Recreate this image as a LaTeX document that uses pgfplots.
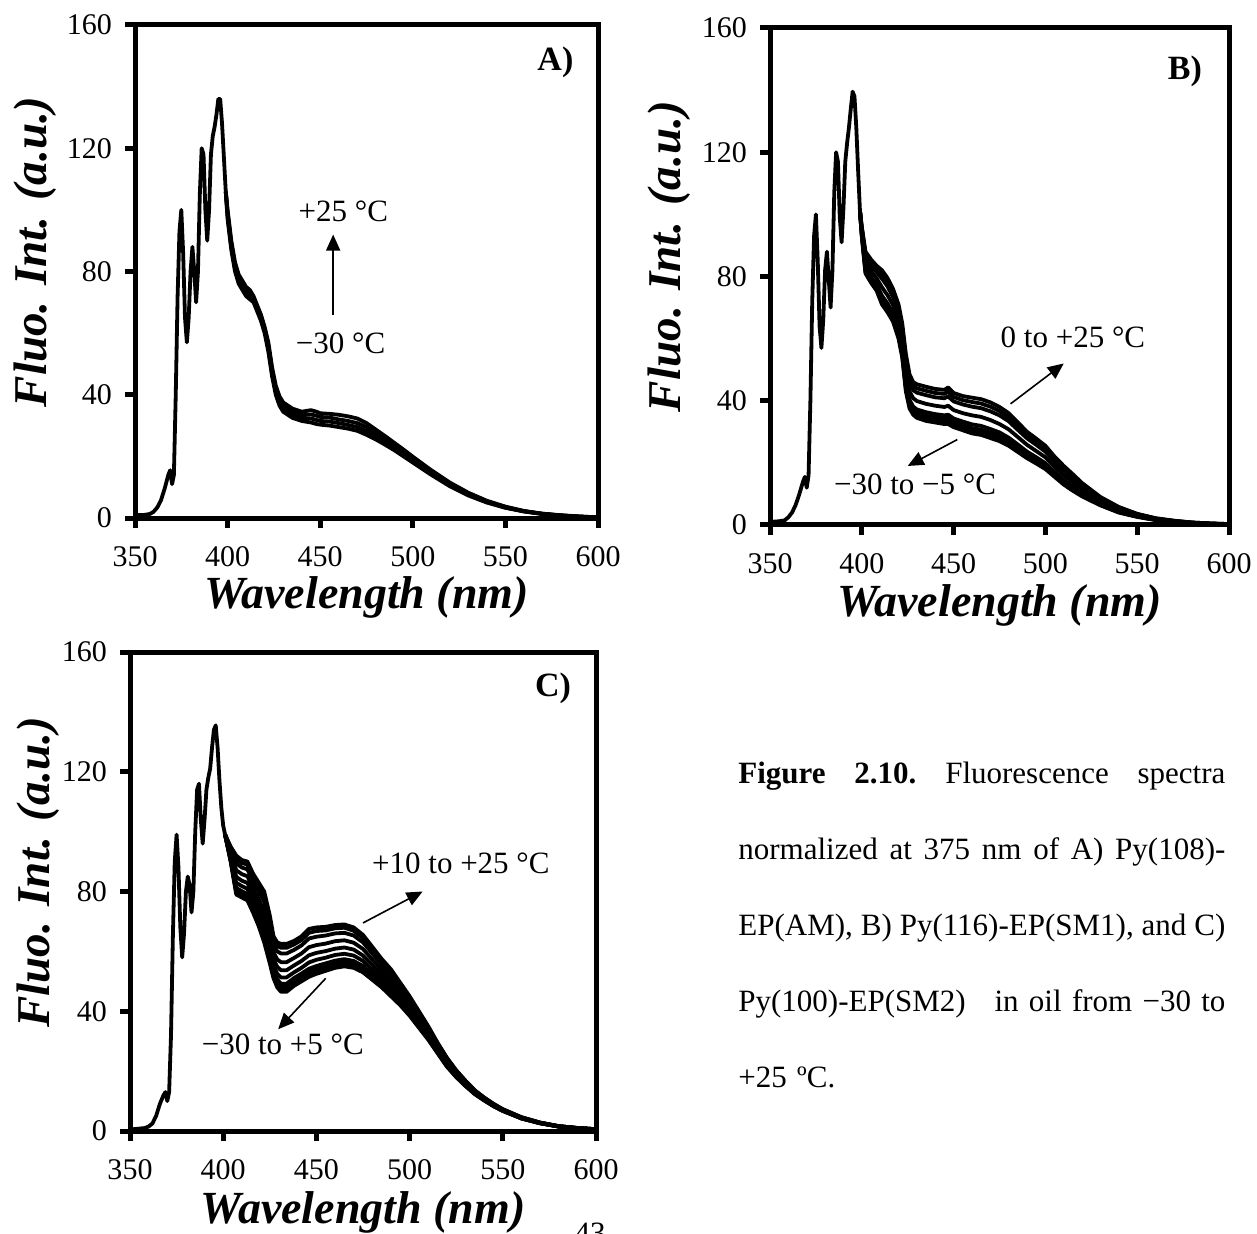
\documentclass[border=0pt]{standalone}
\usepackage{fontspec}
\setmainfont{Liberation Serif}
\usepackage{pgfplots}
\pgfplotsset{compat=1.18}
\usepackage{pgfplotstable}
\usetikzlibrary{arrows.meta}

% ---------------- Panel A ----------------
\pgfplotstableread{
x y
350 1
355 1
358 1.3
360 2
362 3.4
364 5.7
366 9.5
368 14
369 15.5
370 11
371 14
372 40
373 72
374 93
375 100
376 86
377 65
378 57
379 65
380 80
381 88
382 80
383 70
384 80
385 105
386 120
387 118
388 100
389 90
390 100
391 118
392 124
393 127
394 131
395 136
396 136
397 128
398 117
399 106
}\Acommon

\pgfplotstableread{
x c1 c2 c3 c4
399 106 106 106 106
400 97 98 99 100
402 87 88 89 90
404 80 81 82 83
406 76 77 78 79
408 74 75 76 77
410 72 73 74 75
412 71 72 73 74
414 70 71 71.5 72
416 67 68 68.5 69
418 64 65 65.5 66
420 60 61 61.5 62
422 54 55 56 57
424 46 47 48 49
426 40 41 42 43
428 36.5 37.5 38.5 39.5
430 34.5 35.5 36.5 37.5
435 32.5 33.5 34.5 35.5
440 31.5 32.5 33.5 34.5
445 31 32.3 33.6 35
448 30.5 31.8 33.2 34.5
450 30.3 31.5 32.8 34
455 30 31.3 32.6 33.8
460 29.5 30.8 32 33.5
465 29 30.2 31.5 33
470 28.3 29.5 30.8 32.3
475 27 28.2 29.5 30.8
480 25.5 26.5 27.5 28.7
485 23.8 24.7 25.6 26.6
490 22 22.8 23.6 24.4
495 20 20.7 21.4 22.2
500 18 18.6 19.2 19.9
510 14 14.5 15 15.5
520 10.3 10.7 11.1 11.5
530 7.3 7.6 7.9 8.2
540 5 5.2 5.4 5.6
550 3.3 3.4 3.5 3.7
560 2.1 2.2 2.2 2.3
570 1.3 1.3 1.4 1.4
580 0.8 0.8 0.8 0.9
590 0.4 0.4 0.5 0.5
600 0.2 0.2 0.2 0.2
}\Avar

% ---------------- Panel B ----------------
\pgfplotstableread{
x y
350 1
355 1.2
358 1.5
360 2.5
362 4
364 6.5
366 10
368 14
369 15.5
370 12
371 16
372 40
373 72
374 93
375 100
376 85
377 64
378 57
379 66
380 82
381 88
382 79
383 70
384 82
385 107
386 120
387 117
388 99
389 91
390 102
391 117
392 123
393 128
394 134
395 139.5
396 138
397 128
398 114
399 101
}\Bcommon

\pgfplotstableread{
x c1 c2 c3 c4 c5 c6 c7 c8
399 101 101 101 101 101 101 101 101
400 93 93.2 93.5 93.8 94.5 95.3 95.6 96
402 81 81.5 82.1 82.8 84.5 86.3 87.2 88
405 78 78.5 79.1 79.9 81.8 83.6 84.6 85.5
408 75.5 76.1 76.7 77.5 79.5 81.5 82.5 83.5
411 71 71.8 72.7 73.8 76.5 79.3 80.7 82
414 68.5 69.3 70.2 71.3 74 76.8 78.2 79.5
417 65.5 66.2 67.1 68.1 70.8 73.4 74.7 76
420 60 60.8 61.7 62.8 65.5 68.3 69.7 71
422 54 54.8 55.7 56.8 59.5 62.3 63.7 65
424 43 43.8 44.8 46 49 52 53.6 55
426 37.5 38.3 39.2 40.3 43 45.8 47.2 48.5
428 35.5 36.2 37.1 38.1 40.8 43.4 44.7 46
430 34.5 35.3 36.1 37.2 39.9 42.6 44 45.3
435 33.5 34.3 35.2 36.3 39 41.8 43.2 44.5
440 33 33.8 34.6 35.7 38.4 41.1 42.5 43.8
445 32.5 33.3 34.2 35.3 38 40.8 42.2 43.5
447 32.5 33.3 34.3 35.5 38.4 41.4 42.9 44.3
450 31.5 32.3 33.2 34.3 37 39.8 41.2 42.5
455 30.5 31.3 32.2 33.3 36 38.8 40.2 41.5
460 29.5 30.3 31.2 32.4 35.3 38.1 39.6 41
465 29 29.8 30.7 31.9 34.8 37.6 39.1 40.5
470 28 28.8 29.7 30.9 33.8 36.6 38.1 39.5
475 27 27.8 28.7 29.8 32.5 35.3 36.7 38
480 25.5 26.2 27.1 28.1 30.8 33.4 34.7 36
485 23.5 24.2 24.9 25.9 28.3 30.6 31.9 33
490 21.5 22.1 22.8 23.6 25.8 27.9 29 30
495 19.8 20.4 21 21.8 23.8 25.8 26.8 27.8
500 18 18.5 19.1 19.9 21.8 23.6 24.6 25.5
505 15.5 16 16.5 17.1 18.8 20.4 21.2 22
510 13 13.4 13.9 14.5 16 17.5 18.3 19
515 11 11.4 11.8 12.3 13.7 15 15.7 16.3
520 9.2 9.5 9.8 10.3 11.4 12.4 13 13.5
530 6.3 6.5 6.7 7 7.7 8.3 8.7 9
540 4 4.1 4.3 4.5 4.9 5.4 5.6 5.8
550 2.6 2.7 2.8 2.9 3.1 3.4 3.5 3.6
560 1.6 1.6 1.7 1.8 1.9 2 2.1 2.2
570 1 1 1 1.1 1.2 1.3 1.3 1.4
580 0.6 0.6 0.6 0.7 0.7 0.7 0.8 0.8
590 0.3 0.3 0.3 0.4 0.4 0.4 0.5 0.5
600 0.2 0.2 0.2 0.2 0.2 0.3 0.3 0.3
}\Bvar

% ---------------- Panel C ----------------
\pgfplotstableread{
x y
350 0.5
355 0.8
358 1
360 1.5
362 2.5
364 5
366 9
368 12
369 13
370 10
371 13
372 32
373 65
374 90
375 99
376 88
377 68
378 58
379 66
380 80
381 85
382 82
383 73
384 80
385 100
386 114
387 116
388 104
389 96
390 104
391 114
392 118
393 121
394 128
395 134
396 135.5
397 128
398 117
399 108
400 102
401 99
}\Ccommon

\pgfplotstableread{
x c1 c2 c3 c4 c5 c6 c7 c8 c9 c10
401 99 99 99 99 99 99 99 99 99 99
404 90 90.3 90.5 90.9 91.5 92.3 93.1 94 94.6 95
407 79 79.7 80.3 81.2 82.9 84.9 87.1 89.4 91 92
410 78 78.6 79.3 80.1 81.8 83.6 85.8 88 89.5 90.5
413 77 77.7 78.3 79.2 80.9 82.9 85.1 87.4 89 90
416 73 73.7 74.3 75.2 76.9 78.9 81.1 83.4 85 86
419 68.5 69.2 70 71 72.9 75 77.5 80.1 81.8 83
422 63 63.9 64.7 65.9 68.1 70.7 73.5 76.6 78.6 80
425 56 56.8 57.6 58.7 60.8 63.2 65.9 68.8 70.7 72
427 51 51.7 52.4 53.4 55.2 57.3 59.7 62.2 63.9 65
429 48 48.8 49.5 50.6 52.5 54.8 57.3 60 61.8 63
431 46.5 47.3 48.1 49.2 51.3 53.7 56.4 59.3 61.2 62.5
434 46.5 47.3 48.1 49.2 51.3 53.7 56.4 59.3 61.2 62.5
438 48.5 49.3 50 51.1 53 55.3 57.8 60.5 62.3 63.5
442 50 50.8 51.5 52.6 54.5 56.8 59.3 62 63.8 65
446 51.5 52.3 53.1 54.2 56.3 58.7 61.4 64.3 66.2 67.5
450 52.5 53.3 54.1 55.1 57.2 59.5 62.1 64.9 66.8 68
455 53.5 54.2 55 56 57.9 60.1 62.6 65.3 67 68.2
460 54.5 55.2 55.9 56.9 58.8 60.9 63.4 66 67.7 68.8
465 55 55.7 56.4 57.4 59.2 61.3 63.7 66.2 67.9 69
470 54.5 55.2 55.9 56.8 58.6 60.6 62.9 65.3 66.9 68
475 53 53.6 54.3 55.1 56.8 58.6 60.8 63 64.5 65.5
480 50.5 51.1 51.6 52.4 53.8 55.5 57.3 59.3 60.6 61.5
485 48 48.5 49 49.6 50.9 52.3 53.9 55.6 56.7 57.5
490 45 45.5 45.9 46.5 47.7 49.1 50.6 52.2 53.3 54
495 42 42.4 42.8 43.3 44.3 45.4 46.7 48 48.9 49.5
500 38.5 38.8 39.2 39.6 40.5 41.4 42.5 43.7 44.5 45
505 34.5 34.8 35.1 35.4 36.2 37 37.9 38.9 39.6 40
510 30.5 30.7 31 31.3 31.9 32.5 33.3 34.1 34.6 35
515 26 26.2 26.4 26.6 27.1 27.6 28.2 28.8 29.2 29.5
520 21.5 21.7 21.8 22 22.4 22.9 23.4 23.9 24.3 24.5
525 18 18.1 18.2 18.4 18.7 19 19.4 19.8 20.1 20.3
530 15 15.1 15.2 15.3 15.5 15.8 16.1 16.4 16.7 16.8
535 12.3 12.4 12.4 12.5 12.7 12.9 13.1 13.3 13.5 13.6
540 10.2 10.3 10.3 10.4 10.5 10.7 10.8 11 11.1 11.2
545 8.3 8.3 8.4 8.4 8.5 8.7 8.8 8.9 9 9.1
550 6.7 6.7 6.8 6.8 6.9 7 7.1 7.2 7.2 7.3
560 4.2 4.2 4.2 4.3 4.3 4.4 4.4 4.5 4.6 4.6
570 2.6 2.6 2.6 2.6 2.7 2.7 2.7 2.8 2.8 2.8
580 1.5 1.5 1.5 1.5 1.5 1.6 1.6 1.6 1.6 1.6
590 0.9 0.9 0.9 0.9 0.9 1 1 1 1 1
600 0.5 0.5 0.5 0.5 0.5 0.6 0.6 0.6 0.6 0.6
}\Cvar

\pgfplotsset{
  panel/.style={
    scale only axis,
    anchor=south west,
    xmin=350, xmax=600, ymin=0, ymax=160,
    xtick={350,400,450,500,550,600},
    ytick={0,40,80,120,160},
    axis line style={line width=2.5pt},
    tick align=outside,
    xtick pos=bottom, ytick pos=left,
    major tick length=5pt,
    tick style={black, line width=2.5pt},
    ticklabel style={font=\fontsize{15}{18}\selectfont},
    xticklabel style={yshift=-5.5pt},
    yticklabel style={xshift=-3pt},
    /pgf/number format/assume math mode=true,
    xlabel={Wavelength (nm)},
    ylabel={Fluo. Int. (a.u.)},
    every axis x label/.style={anchor=center, font=\fontsize{23}{27}\selectfont\bfseries\itshape},
    every axis y label/.style={anchor=center, rotate=90, font=\fontsize{23.5}{27}\selectfont\bfseries\itshape},
  },
  curve/.style={black, line width=1.9pt, line join=round, no marks},
}
\tikzset{
  ann/.style={font=\fontsize{15.5}{18}\selectfont, inner sep=0pt},
  plab/.style={font=\fontsize{17}{20}\selectfont\bfseries, inner sep=0pt},
  arr/.style={black, line width=0.8pt, -{Triangle[width=7pt,length=8pt]}},
}

\begin{document}
\begin{tikzpicture}
\path[use as bounding box] (0,0) rectangle (628.5pt,-617pt);

% Panel A
\begin{axis}[panel, at={(67.5pt,-259pt)}, width=231.5pt, height=246.5pt,
  xlabel style={at={(axis description cs:0.5,-0.162)}},
  ylabel style={at={(axis description cs:-0.216,0.54)}}]
\addplot[curve] table[x=x,y=y]{\Acommon};
\pgfplotsinvokeforeach{1,...,4}{\addplot[curve] table[x=x,y=c#1]{\Avar};}
\draw[arr] (axis cs:457,66) -- (axis cs:457,92);
\node[ann] at (axis cs:462.5,99.4) {+25 °C};
\node[ann] at (axis cs:461,56.8) {−30 °C};
\node[plab] at (axis cs:577,148) {A)};
\end{axis}

% Panel B
\begin{axis}[panel, at={(385pt,-262.5pt)}, width=229.5pt, height=248.5pt,
  xlabel style={at={(axis description cs:0.5,-0.161)}},
  ylabel style={at={(axis description cs:-0.22,0.54)}}]
\addplot[curve] table[x=x,y=y]{\Bcommon};
\pgfplotsinvokeforeach{1,...,8}{\addplot[curve] table[x=x,y=c#1]{\Bvar};}
\draw[arr] (axis cs:481,39) -- (axis cs:510,52);
\draw[arr] (axis cs:452,27.5) -- (axis cs:425,19);
\node[ann] at (axis cs:515,60.3) {0 to +25 °C};
\node[ann] at (axis cs:429,13) {−30 to −5 °C};
\node[plab] at (axis cs:576,146) {B)};
\end{axis}

% Panel C
\begin{axis}[panel, at={(65pt,-565.5pt)}, width=233pt, height=239.5pt,
  xlabel style={at={(axis description cs:0.5,-0.169)}},
  ylabel style={at={(axis description cs:-0.197,0.54)}}]
\addplot[curve] table[x=x,y=y]{\Ccommon};
\pgfplotsinvokeforeach{1,...,10}{\addplot[curve] table[x=x,y=c#1]{\Cvar};}
\draw[arr] (axis cs:475,69.5) -- (axis cs:507,80);
\draw[arr] (axis cs:455,51) -- (axis cs:429.5,34);
\node[ann] at (axis cs:527.5,89.4) {+10 to +25 °C};
\node[ann] at (axis cs:432,29) {−30 to +5 °C};
\node[plab] at (axis cs:577,148) {C)};
\end{axis}

% Caption (justified lines, stacked boxes)
\node[anchor=north west, inner sep=0pt, text width=244pt,
      font=\fontsize{15.5}{38}\selectfont] at (369pt,-381pt) {%
\hbox to 243.5pt{\textbf{Figure}\hfill\textbf{2.10.}\hfill Fluorescence\hfill spectra}
\hbox to 243.5pt{normalized\hfill at\hfill 375\hfill nm\hfill of\hfill A)\hfill Py(108)-}
\hbox to 243.5pt{EP(AM),\hfill B)\hfill Py(116)-EP(SM1),\hfill and\hfill C)}
\hbox to 243.5pt{Py(100)-EP(SM2)\hspace{0.6em}\hfill in\hfill oil\hfill from\hfill −30\hfill to}
\hbox{+25 ºC.}};

% page number (cut at the bottom edge, as in the reference)
\node[anchor=north, inner sep=0pt, font=\fontsize{15.5}{18}\selectfont] at (295pt,-611.5pt) {43};
\end{tikzpicture}
\end{document}
